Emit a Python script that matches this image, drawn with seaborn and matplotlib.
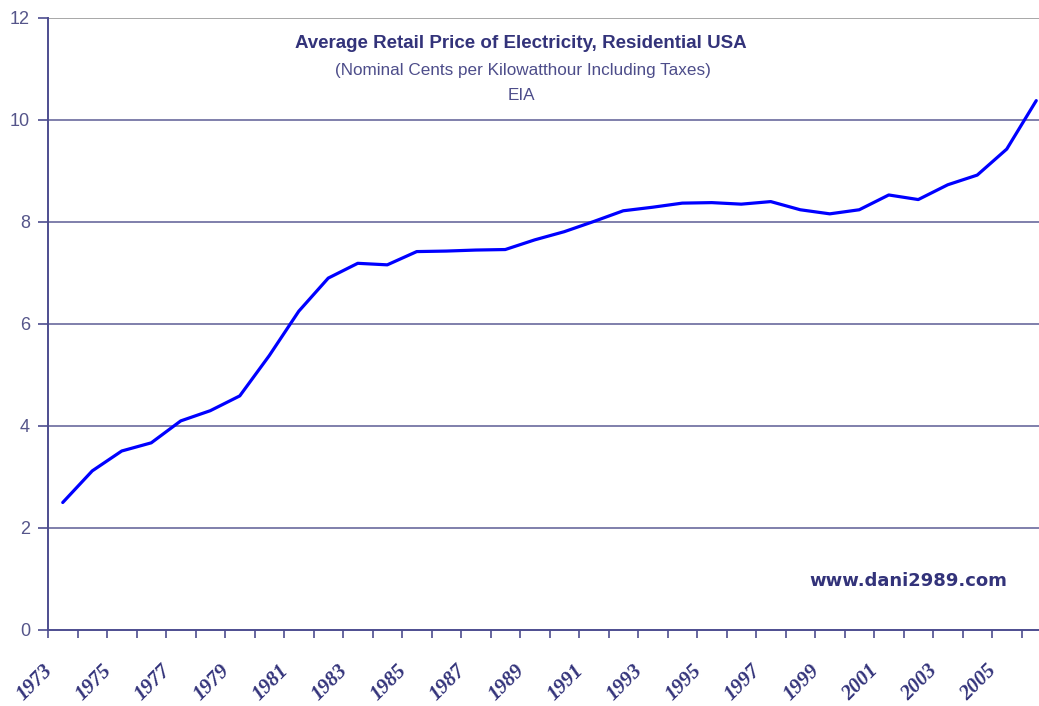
import matplotlib
matplotlib.use("Agg")
import matplotlib.pyplot as plt
import matplotlib.transforms as mtransforms
import numpy as np
import pandas as pd
import seaborn as sns

# data (nominal cents per kWh)
years = list(range(1973, 2007))
prices = [2.50, 3.12, 3.51, 3.67, 4.10, 4.30, 4.59, 5.38, 6.25, 6.90,
          7.19, 7.16, 7.42, 7.43, 7.45, 7.46, 7.65, 7.81, 8.01, 8.22,
          8.29, 8.37, 8.38, 8.35, 8.40, 8.24, 8.16, 8.24, 8.53, 8.44,
          8.73, 8.92, 9.43, 10.38]
label_years = [y for y in years if y % 2 == 1]

df = pd.DataFrame({"pos": np.arange(len(years)), "year": years, "price": prices})

sns.set_style("white")
navy = "#4d4d8f"
text_col = "#33337a"
grid_col = "#5c5c94"

fig = plt.figure(figsize=(10.39, 7.06), dpi=100)
ax = fig.add_axes([48 / 1039, 76 / 706, 991 / 1039, 612 / 706])

sns.lineplot(data=df, x="pos", y="price", color="#0000ff", linewidth=2.3, ax=ax)

ax.set_yticks(np.arange(0, 13, 2))
ax.set_yticklabels([str(v) for v in range(0, 13, 2)], fontsize=13,
                   color="#55558a", family="Liberation Sans")
for v in range(2, 11, 2):
    ax.axhline(v, color=grid_col, lw=1.1, zorder=0)
ax.axhline(12, color="#a0a0a0", lw=1.3, zorder=0)

# tick marks at category boundaries, year labels below odd-year centres (shifted left like Excel)
ax.set_xticks(np.arange(-0.5, len(years), 1))
ax.set_xticklabels([])
ax.tick_params(axis="x", length=6, width=1.2, color=navy, direction="out", bottom=True)
ax.tick_params(axis="y", length=7, width=1.2, color=navy, direction="out", left=True, pad=6)

lab_tr = mtransforms.blended_transform_factory(ax.transData, ax.transAxes) + \
    mtransforms.ScaledTranslation(-0.20, -0.31, fig.dpi_scale_trans)
for y in label_years:
    ax.text(years.index(y), 0, str(y), transform=lab_tr, rotation=45, ha="right", va="top",
            rotation_mode="anchor", fontsize=15, color=text_col,
            family="Liberation Serif", fontweight="bold", style="italic", clip_on=False)

ax.set_ylim(0, 12)
ax.set_xlim(-0.5, -0.5 + 991 / 29.5)

for side in ["top", "right"]:
    ax.spines[side].set_visible(False)
for side in ["left", "bottom"]:
    ax.spines[side].set_color(navy)
    ax.spines[side].set_linewidth(1.4)
ax.set_xlabel("")
ax.set_ylabel("")

fig.text(521 / 1039, 1 - 44 / 706, "Average Retail Price of Electricity, Residential USA",
         ha="center", va="center", fontsize=13.5, fontweight="bold", color=text_col,
         family="Liberation Sans")
fig.text(523 / 1039, 1 - 70 / 706, "(Nominal Cents per Kilowatthour Including Taxes)",
         ha="center", va="center", fontsize=12.3, color="#4d4d8a", family="Liberation Sans")
fig.text(521 / 1039, 1 - 95 / 706, "EIA", ha="center", va="center", fontsize=12.3,
         color="#4d4d8a", family="Liberation Sans")
fig.text(908 / 1039, 1 - 581 / 706, "www.dani2989.com", ha="center", va="center",
         fontsize=13, fontweight="bold", color=text_col, family="DejaVu Sans")

plt.savefig("out.png", dpi=100)
